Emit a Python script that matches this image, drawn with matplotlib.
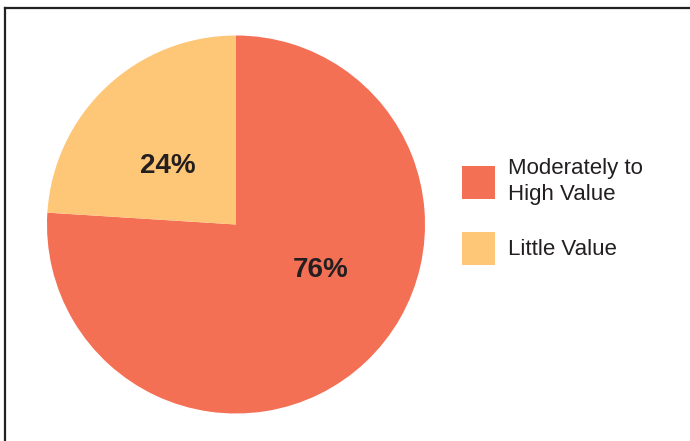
import numpy as np
import matplotlib.pyplot as plt
from matplotlib.patches import Patch
from matplotlib.lines import Line2D

plt.rcParams['font.family'] = ['Liberation Sans', 'DejaVu Sans']

labels = ['Moderately to\nHigh Value', 'Little Value']
shares = [76, 24]
colors = ['#F37055', '#FEC677']
# label anchor (radius fraction, angle deg)
label_pos = [(0.51, -28.0), (0.472, 139.4)]

W, H = 690, 441
fig = plt.figure(figsize=(W / 100, H / 100), dpi=100)

# pie axes: centre (236, 224.5), radius ~189 px
r = 189
ax = fig.add_axes([(236 - r) / W, 1 - (224.5 + r) / H, 2 * r / W, 2 * r / H])
wedges, _ = ax.pie(shares, colors=colors, startangle=90, counterclock=False,
                   radius=1, wedgeprops=dict(linewidth=0))
ax.set_xlim(-1, 1)
ax.set_ylim(-1, 1)
ax.set_aspect('equal')
ax.axis('off')

for val, (rr, ang) in zip(shares, label_pos):
    a = np.deg2rad(ang)
    ax.text(rr * np.cos(a), rr * np.sin(a), f'{val}%', ha='center', va='center',
            fontsize=20, fontweight='bold', color='#231F20')

handles = [Patch(facecolor=c, edgecolor='none') for c in colors]
leg = fig.legend(handles, labels, loc='upper left', bbox_to_anchor=(462 / W, 1 - 158 / H),
                 frameon=False, fontsize=16, handlelength=1.485, handleheight=1.908,
                 handletextpad=0.6, labelspacing=1.21, borderpad=0, borderaxespad=0,
                 labelcolor='#231F20')
for t in leg.get_texts():
    t.set_linespacing(1.3)

# frame lines on the left and top edges
fig.add_artist(Line2D([5 / W, 1], [1 - 7.5 / H, 1 - 7.5 / H], color='#222222', lw=1.6,
                      transform=fig.transFigure))
fig.add_artist(Line2D([5 / W, 5 / W], [0, 1 - 7.5 / H], color='#222222', lw=1.6,
                      transform=fig.transFigure))

fig.savefig('out.png', dpi=100)
